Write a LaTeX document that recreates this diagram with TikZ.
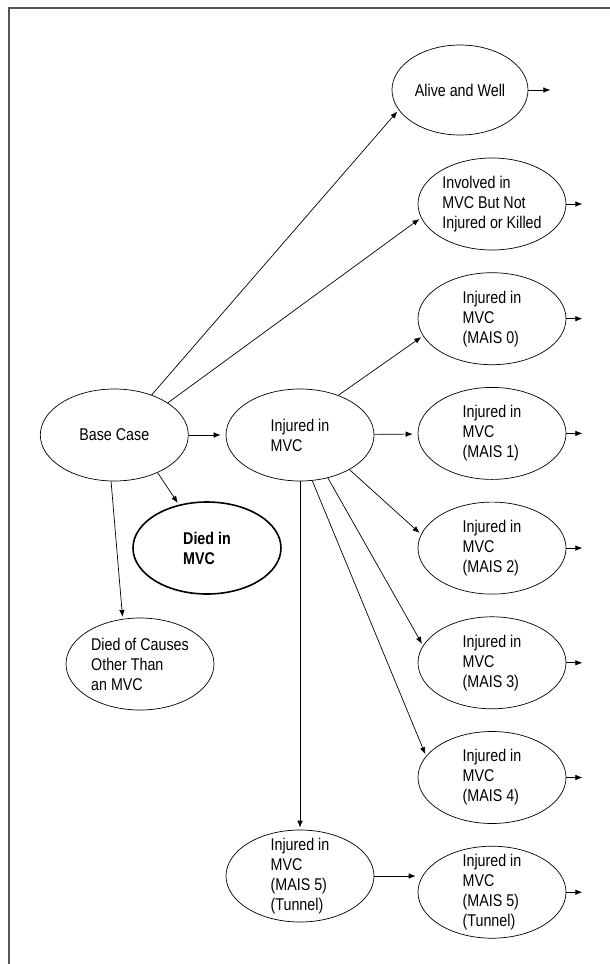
\documentclass[tikz,border=0pt]{standalone}
\usepackage{fontspec}
\setmainfont{Liberation Sans}[FakeStretch=0.84]
\usetikzlibrary{shapes.geometric, arrows.meta, positioning}
\definecolor{framegray}{RGB}{85,85,85}

\begin{document}
\begin{tikzpicture}[
    x=1pt, y=-1pt,
    node distance=22pt,
    state/.style={ellipse, draw=black, line width=0.7pt, minimum width=148pt, minimum height=92pt, inner xsep=0pt, inner ysep=-8pt, align=left, font=\fontsize{17}{20}\selectfont},
    dead/.style={state, line width=1.6pt, font=\fontsize{17}{20}\selectfont\bfseries},
    arrow/.style={-{Latex[length=7pt, width=5.5pt]}, line width=0.7pt, shorten >=2pt},
    frame/.style={draw=framegray, line width=1.4pt}
]
\useasboundingbox (0,0) rectangle (610,964);
\draw[frame] (9,964) -- (9,8) -- (610,8);

% Right column
\node[state] (inv) at (492,204) {Involved in\\MVC But Not\\Injured or Killed};
\node[state, minimum width=136pt, minimum height=90pt] (alive) at (460,90) {Alive and Well};
\node[state, below=of inv] (m0) {Injured in\\MVC\\(MAIS 0)};
\node[state, below=of m0] (m1) {Injured in\\MVC\\(MAIS 1)};
\node[state, below=of m1] (m2) {Injured in\\MVC\\(MAIS 2)};
\node[state, below=of m2] (m3) {Injured in\\MVC\\(MAIS 3)};
\node[state, below=of m3] (m4) {Injured in\\MVC\\(MAIS 4)};
\node[state, below=of m4] (tr) {Injured in\\MVC\\(MAIS 5)\\(Tunnel)};

% Middle and left
\node[state] (inj) at (300,435) {Injured in\\MVC};
\node[state, left=37pt of inj] (base) {Base Case};
\node[dead] (died) at (207,548) {Died in\\MVC};
\node[state] (other) at (140,664) {Died of Causes\\Other Than\\an MVC};
\node[state] (tl) at (300,876) {Injured in\\MVC\\(MAIS 5)\\(Tunnel)};

% Arrows
\draw[arrow] (base.47) -- (alive.198);
\draw[arrow] (base.31) -- (inv.191);
\draw[arrow, shorten >=5pt] (base) -- (inj);
\draw[arrow] (base.-41) -- (died.123);
\draw[arrow] (base.-94) -- (other.111);
\draw[arrow] (inj.46) -- (m0.194);
\draw[arrow, shorten >=5pt] (inj) -- (m1);
\draw[arrow] (inj.-35) -- (m2.169);
\draw[arrow] (inj.-57) -- (m3.166);
\draw[arrow] (inj.-75) -- (m4.162);
\draw[arrow] (inj) -- (tl);
\draw[arrow] (tl.east) -- (tl.east -| tr.west);

% Outgoing stubs
\foreach \n/\len in {alive/22, inv/16, m0/16, m1/16, m2/16, m3/16, m4/16, tr/16} {
  \coordinate (\n-out) at ([xshift=\len pt]\n.east);
  \draw[arrow, shorten >=0pt] (\n.east) -- (\n-out);
}
\end{tikzpicture}
\end{document}
